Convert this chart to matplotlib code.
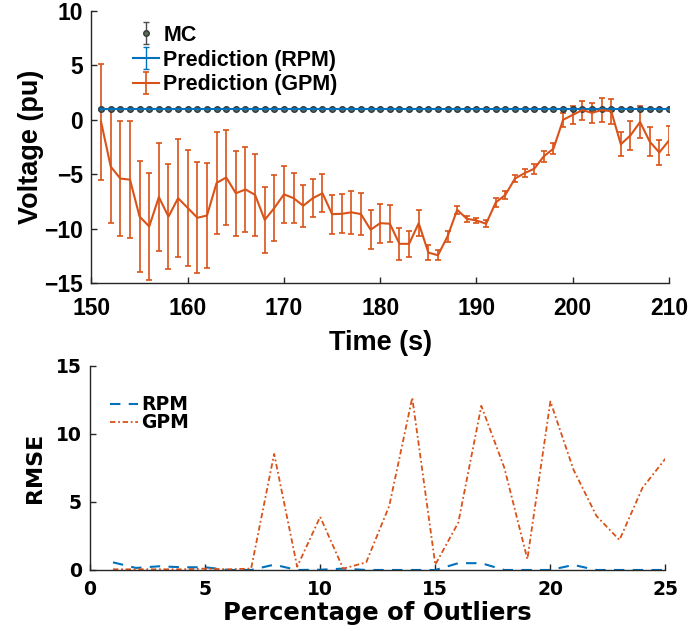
"""Voltage prediction vs MC (top) and RMSE vs outlier percentage (bottom)."""

import matplotlib

matplotlib.use("Agg")
import matplotlib.pyplot as plt

BLUE = (0.0, 0.447, 0.741)
ORANGE = (0.85, 0.325, 0.098)
AX_COLOR = (0.15, 0.15, 0.15)

# --- top panel data -------------------------------------------------------
time_s = list(range(151, 211))
mc_mean = [1.0] * 60
mc_err = [0.05] * 60
rpm_mean = [1.0] * 60
rpm_err = [0.08] * 60
gpm_mean = [
    -0.2, -4.3, -5.4, -5.5, -8.9, -9.8, -7.1, -8.9, -7.2, -8.1,
    -9.0, -8.8, -5.8, -5.3, -6.75, -6.4, -6.9, -9.2, -8.1, -6.85,
    -7.2, -7.9, -7.2, -6.75, -8.67, -8.64, -8.5, -8.67, -10.1, -9.5,
    -9.55, -11.4, -11.4, -9.5, -12.2, -12.45, -10.7, -8.27, -9.1, -9.25,
    -9.55, -7.6, -6.9, -5.4, -4.9, -4.5, -3.35, -2.65, 0.0, 0.45,
    0.9, 0.64, 0.9, 0.79, -2.25, -1.43, -0.2, -2.0, -3.0, -1.9,
]
gpm_err = [
    5.3, 5.2, 5.3, 5.35, 5.1, 4.9, 5.0, 4.85, 5.4, 5.3,
    5.1, 4.8, 4.7, 4.35, 3.9, 3.9, 3.75, 3.0, 3.0, 2.65,
    2.3, 1.95, 1.75, 1.75, 1.8, 1.8, 1.95, 1.95, 1.8, 1.8,
    1.7, 1.5, 1.2, 1.2, 0.7, 0.45, 0.5, 0.35, 0.3, 0.25,
    0.3, 0.4, 0.4, 0.3, 0.35, 0.45, 0.5, 0.5, 0.65, 0.85,
    0.87, 0.95, 1.1, 1.15, 1.1, 1.35, 1.5, 1.3, 1.15, 1.3,
]

# --- bottom panel data ----------------------------------------------------
outlier_pct = list(range(1, 26))
rmse_rpm = [
    0.56, 0.15, 0.27, 0.2, 0.2, 0.0, 0.0, 0.39, 0.0, 0.02,
    0.1, 0.0, 0.0, 0.0, 0.0, 0.5, 0.5, 0.0, 0.0, 0.0,
    0.37, 0.0, 0.0, 0.0, 0.0,
]
rmse_gpm = [
    0.05, 0.05, 0.05, 0.05, 0.1, 0.05, 0.1, 8.52, 0.24, 3.9,
    0.1, 0.56, 4.7, 12.65, 0.39, 3.48, 12.05, 7.5, 0.8, 12.37,
    7.38, 3.97, 2.2, 6.03, 8.18,
]


def style_axes(ax, tick_font, tick_size, xpad):
    for side in ("top", "right"):
        ax.spines[side].set_visible(False)
    for side in ("left", "bottom"):
        ax.spines[side].set_color(AX_COLOR)
        ax.spines[side].set_linewidth(1.0)
    ax.tick_params(direction="in", length=4, width=1.0, colors=AX_COLOR,
                   labelcolor="black")
    ax.tick_params(axis="x", pad=xpad)
    ax.tick_params(axis="y", pad=6)
    for lab in ax.get_xticklabels() + ax.get_yticklabels():
        lab.set_fontfamily(tick_font)
        lab.set_fontweight("bold")
        lab.set_fontsize(tick_size)


fig = plt.figure(figsize=(6.92, 6.31), dpi=100)

# top: voltage
ax1 = fig.add_axes([0.1322, 0.5515, 0.8345, 0.431])
ax1.errorbar(time_s, mc_mean, yerr=mc_err, fmt="o", color=(0.3, 0.3, 0.3),
             markerfacecolor=(0.35, 0.42, 0.3), markeredgecolor=(0.2, 0.22, 0.25),
             markersize=4, capsize=2, elinewidth=1.0, label="MC")
ax1.errorbar(time_s, rpm_mean, yerr=rpm_err, color=BLUE, linewidth=1.5,
             capsize=2.5, elinewidth=1.0, label="Prediction (RPM)")
ax1.errorbar(time_s, gpm_mean, yerr=gpm_err, color=ORANGE, linewidth=1.5,
             capsize=2.5, elinewidth=1.2, capthick=1.2, label="Prediction (GPM)")
ax1.set_xlim(150, 210)
ax1.set_ylim(-15, 10)
ax1.set_xticks(range(150, 211, 10))
ax1.set_yticks(range(-15, 11, 5))
style_axes(ax1, "Liberation Sans", 16.5, 10)
ax1.set_xlabel("Time (s)", fontfamily="Liberation Sans", fontweight="bold",
               fontsize=19.5, labelpad=7)
ax1.set_ylabel("Voltage (pu)", fontfamily="Liberation Sans", fontweight="bold",
               fontsize=19.5, labelpad=0)
leg1 = ax1.legend(loc="upper left", bbox_to_anchor=(0.072, 0.95), frameon=False,
                  borderpad=0, borderaxespad=0, handlelength=1.2,
                  handletextpad=0.2, labelspacing=0.18,
                  prop={"family": "Liberation Sans", "weight": "bold", "size": 15.5})

# bottom: RMSE
ax2 = fig.add_axes([0.130, 0.0967, 0.8317, 0.3238])
ax2.plot(outlier_pct, rmse_rpm, linestyle=(0, (5, 4)), color=BLUE,
         linewidth=1.5, label="RPM")
ax2.plot(outlier_pct, rmse_gpm, linestyle=(0, (3, 1.5, 1, 1.5)), color=ORANGE,
         linewidth=1.3, label="GPM")
ax2.set_xlim(0, 25)
ax2.set_ylim(0, 15)
ax2.set_xticks(range(0, 26, 5))
ax2.set_yticks(range(0, 16, 5))
style_axes(ax2, "DejaVu Sans", 13.5, 7)
ax2.set_xlabel("Percentage of Outliers", fontfamily="DejaVu Sans",
               fontweight="bold", fontsize=17.5, labelpad=1.5)
ax2.set_ylabel("RMSE", fontfamily="DejaVu Sans", fontweight="bold",
               fontsize=16, labelpad=8)
ax2.legend(loc="upper left", bbox_to_anchor=(0.035, 0.855), frameon=False,
           borderpad=0, borderaxespad=0, handlelength=1.5, handletextpad=0.15,
           labelspacing=-0.05,
           prop={"family": "DejaVu Sans", "weight": "bold", "size": 13.5})

fig.savefig("out.png", dpi=100)
